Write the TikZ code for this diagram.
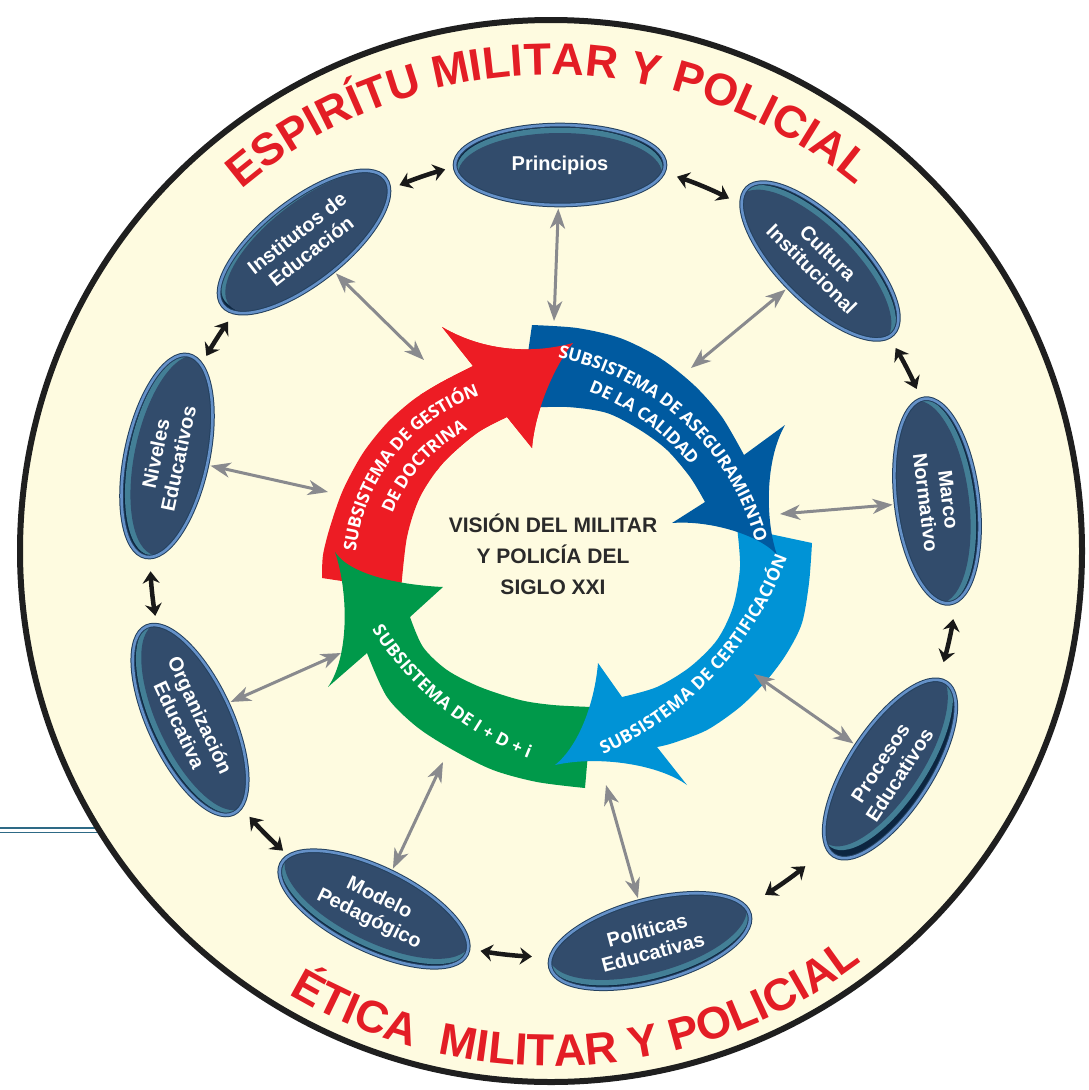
\documentclass[tikz,border=0pt]{standalone}
\usepackage{fontspec}
\setmainfont{Liberation Sans}
\newfontfamily\bandfont{Open Sans}
\usetikzlibrary{shapes.geometric,arrows.meta,decorations.text,calc}
\definecolor{cream}{HTML}{FEFBE0}
\definecolor{rtitle}{HTML}{E31D25}
\definecolor{ellfill}{HTML}{324C6C}
\definecolor{ellrim}{HTML}{6591C8}
\definecolor{elldark}{HTML}{23405E}
\definecolor{elldeep}{HTML}{0C2540}
\definecolor{ellteal}{HTML}{437F96}
\definecolor{grayarr}{HTML}{898A8E}
\definecolor{bred}{HTML}{ED1C24}
\definecolor{bblue}{HTML}{005AA0}
\definecolor{blight}{HTML}{0093D6}
\definecolor{bgreen}{HTML}{00994A}
\definecolor{ctext}{HTML}{2A2A2A}
\definecolor{lline}{HTML}{2E6A86}
\newcommand\redbandpath{(322,578) -- plot[smooth] coordinates {(322,578) (323,555) (330,527) (343,490) (363,453) (387,423) (413,400) (440,383) (473,366)} -- (442,327) .. controls (490,355) and (540,352) .. (573,343) .. controls (555,365) and (535,410) .. (532,448) -- (507,417) -- plot[smooth] coordinates {(507,417) (477,433) (443,463) (420,497) (407,537) (401,590)} -- cycle}
\begin{document}
\begin{tikzpicture}[x=1pt,y=-1pt,
  ellnode/.style={ellipse, fill=ellfill, draw=elldark, double=ellrim, double distance=2.6pt, line width=1pt, minimum width=206pt, minimum height=82pt, inner sep=0pt, text=white, align=center, font=\bfseries\fontsize{20}{23}\selectfont},
  gloss/.style={path picture={
      \fill[elldeep] (path picture bounding box.center) ellipse[x radius=110pt, y radius=50pt];
      \fill[ellteal] ([yshift=#1*3.5pt]path picture bounding box.center) ellipse[x radius=103pt, y radius=41pt];
      \fill[ellfill] ([yshift=#1*9pt]path picture bounding box.center) ellipse[x radius=102pt, y radius=41pt];
  }},
  grayconn/.style={draw=grayarr, line width=3pt, {Stealth[length=20pt,width=15pt,inset=6pt]}-{Stealth[length=20pt,width=15pt,inset=6pt]}, shorten <=3pt},
  blackconn/.style={draw=black!90, line width=4.5pt, {Stealth[length=12pt,width=17pt,inset=4pt]}-{Stealth[length=12pt,width=17pt,inset=4pt]}},
  bandtxt/.style={decorate, decoration={text along path, text align=center, raise=-6pt, text color=white, text={|\bandfont\bfseries\fontsize{17.5}{17.5}\selectfont|#1}}},
  titletxt/.style={decorate, decoration={text along path, text align=center, text color=rtitle, text={|\bfseries\fontsize{45}{45}\selectfont|#1}}}
]
\useasboundingbox (0,0) rectangle (1089,1090);
\coordinate (C) at (551,551);
% double line at left
\draw[lline, line width=1.6pt] (0,828) -- (120,828);
\draw[lline, line width=1.6pt] (0,832.6) -- (120,832.6);
% big circle
\draw[line width=6pt, draw=black!88, fill=cream] (C) circle[radius=531];

% titles
\path[titletxt={ESPIRÍTU MILITAR Y POLICIAL}] ($(C)+(199.6:476)$) arc[start angle=199.6, end angle=339.6, radius=476];
\path[titletxt={ÉTICA}] ($(C)+(153.1:515)$) arc[start angle=153.1, end angle=73.1, radius=515];
\path[titletxt={MILITAR Y POLICIAL}] ($(C)+(137.8:515)$) arc[start angle=137.8, end angle=17.8, radius=515];

% central bands
\fill[bred] \redbandpath;
\fill[bgreen] (592,707) -- (585,788) -- plot[smooth] coordinates {(585,788) (537,782) (493,770) (453,750) (417,727) (387,697) (367,653)} -- (328,687) .. controls (350,655) and (348,590) .. (335,552) .. controls (350,575) and (400,585) .. (443,587) -- (410,617) -- plot[smooth] coordinates {(410,617) (423,647) (447,670) (480,687) (520,700) (553,705) (592,707)} -- cycle;
\fill[blight] (737,527) -- (812,543) -- plot[smooth] coordinates {(812,543) (809,583) (802,623) (787,653) (767,680) (740,707) (707,730) (673,743) (657,747)} -- (687,785) .. controls (660,765) and (600,755) .. (555,765) .. controls (580,745) and (595,700) .. (598,663) -- (622,697) -- plot[smooth] coordinates {(622,697) (657,687) (690,667) (717,640) (733,607) (740,567) (737,527)} -- cycle;
\fill[bblue] (520,408) -- (532,325) -- plot[smooth] coordinates {(532,325) (577,328) (620,338) (660,358) (695,386) (722,417) (744,455)} -- (785,425) .. controls (765,460) and (765,520) .. (777,555) .. controls (760,535) and (710,520) .. (672,523) -- (705,502) -- plot[smooth] coordinates {(705,502) (690,477) (667,450) (640,430) (607,413) (567,407) (520,408)} -- cycle;
\begin{scope}
  \clip (420,300) rectangle (600,470);
  \fill[bred] \redbandpath;
\end{scope}

% band texts
\path[bandtxt={SUBSISTEMA DE GESTIÓN}] ($(539,570)+(158.5:190)$) arc[start angle=158.5, end angle=278.5, radius=190];
\path[bandtxt={DE DOCTRINA}] ($(539,570)+(162:163)$) arc[start angle=162, end angle=282, radius=163];
\path[bandtxt={SUBSISTEMA DE ASEGURAMIENTO}] ($(507,611)+(253:264)$) arc[start angle=253, end angle=373, radius=264];
\path[bandtxt={DE LA CALIDAD}] ($(507,611)+(246:240)$) arc[start angle=246, end angle=366, radius=240];
\path[bandtxt={SUBSISTEMA DE CERTIFICACIÓN}] ($(459,436)+(83:344)$) arc[start angle=83, end angle=3, radius=344];
\path[bandtxt={SUBSISTEMA DE I + D + i}] ($(649,453)+(170:322.6)$) arc[start angle=170, end angle=89, radius=322.6];

% center text
\node[align=center, text=ctext, font=\bfseries\fontsize{21}{31}\selectfont] (vision) at (553,554) {VISIÓN DEL MILITAR\\Y POLICÍA DEL\\SIGLO XXI};

% ellipse nodes
\node[ellnode, gloss=-1, minimum width=210pt, minimum height=80pt] (princ) at (560,165) {Principios};
\node[ellnode, gloss=-1, rotate=-45] (cult) at (820,261) {Cultura\\Institucional};
\node[ellnode, gloss=-1, rotate=-83] (marco) at (937,501) {Marco\\Normativo};
\node[ellnode, gloss=1, rotate=57] (proc) at (890,769) {Procesos\\Educativos};
\node[ellnode, gloss=1, rotate=15] (polit) at (650,941) {Políticas\\Educativas};
\node[ellnode, gloss=1, rotate=-26] (model) at (374,909) {Modelo\\Pedagógico};
\node[ellnode, gloss=1, rotate=-65] (organ) at (190,720) {Organización\\Educativa};
\node[ellnode, gloss=-1, rotate=78] (nivel) at (167,456) {Niveles\\Educativos};
\node[ellnode, gloss=-1, rotate=38] (inst) at (304,242) {Institutos de\\Educación};

% gray connectors
\coordinate (g1) at (554,321);
\coordinate (g2) at (691,368);
\coordinate (g3) at (780,514);
\coordinate (g4) at (754,674);
\coordinate (g5) at (606,785);
\coordinate (g6) at (443,762);
\coordinate (g7) at (341,653);
\coordinate (g8) at (328,492);
\coordinate (g9) at (424,360);
\draw[grayconn] (princ) -- (g1);
\draw[grayconn] (cult) -- (g2);
\draw[grayconn] (marco) -- (g3);
\draw[grayconn] (proc) -- (g4);
\draw[grayconn] (polit) -- (g5);
\draw[grayconn] (model) -- (g6);
\draw[grayconn] (organ) -- (g7);
\draw[grayconn] (nivel) -- (g8);
\draw[grayconn] (inst) -- (g9);

% black connectors between neighbouring nodes
\coordinate (k1) at ($(C)+(247.5:396)$);
\coordinate (k2) at ($(C)+(288.6:395)$);
\coordinate (k3) at ($(C)+(329.5:400)$);
\coordinate (k4) at ($(C)+(9.6:408)$);
\coordinate (k5) at ($(C)+(51.1:405)$);
\coordinate (k6) at ($(C)+(92.7:406)$);
\coordinate (k7) at ($(C)+(131.8:402)$);
\coordinate (k8) at ($(C)+(170.7:401)$);
\coordinate (k9) at ($(C)+(209.5:396)$);
\draw[blackconn] (k1) arc[start angle=247.5, end angle=254.5, radius=396];
\draw[blackconn] (k2) arc[start angle=288.6, end angle=296.8, radius=395];
\draw[blackconn] (k3) arc[start angle=329.5, end angle=336.1, radius=400];
\draw[blackconn] (k4) arc[start angle=9.6, end angle=15.8, radius=408];
\draw[blackconn] (k5) arc[start angle=51.1, end angle=58.1, radius=405];
\draw[blackconn] (k6) arc[start angle=92.7, end angle=100, radius=406];
\draw[blackconn] (k7) arc[start angle=131.8, end angle=138.6, radius=402];
\draw[blackconn] (k8) arc[start angle=170.7, end angle=177.1, radius=401];
\draw[blackconn] (k9) arc[start angle=209.5, end angle=215.4, radius=396];
\end{tikzpicture}
\end{document}
